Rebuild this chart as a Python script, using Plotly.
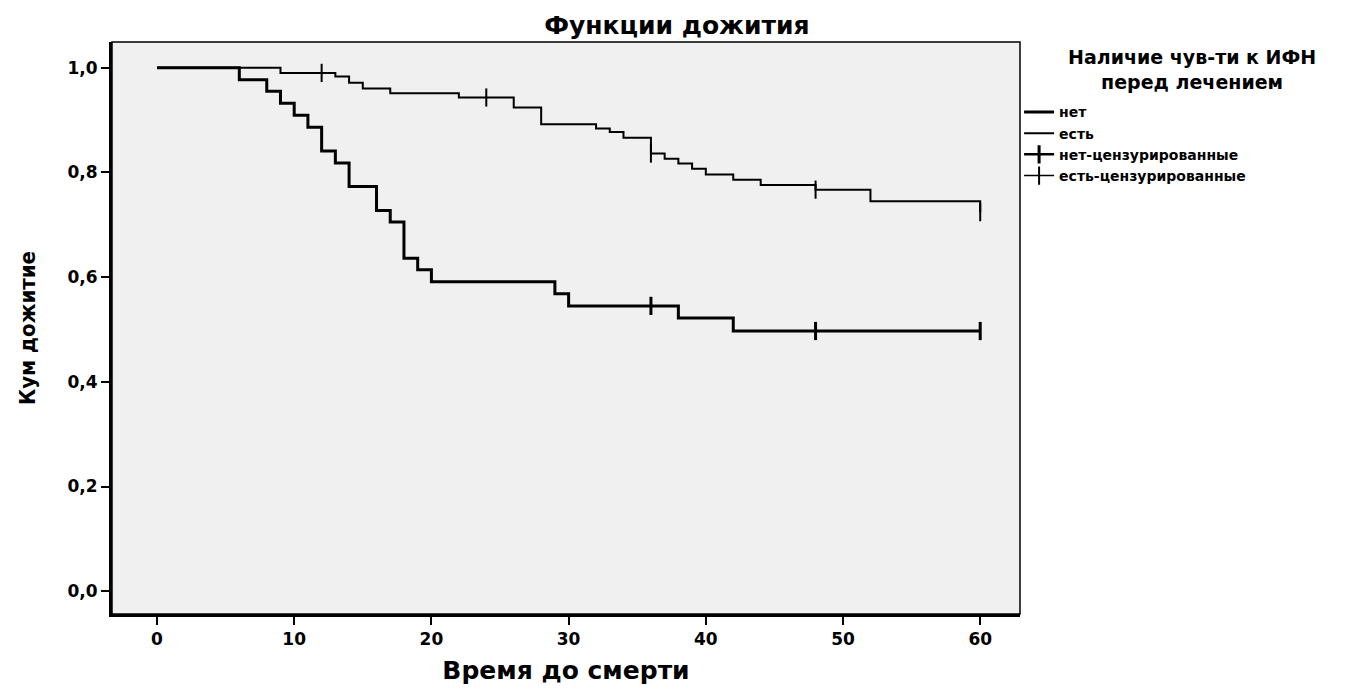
import plotly.graph_objects as go

# --- data ---
net_t = [0, 6, 8, 9, 10, 11, 12, 13, 14, 16, 17, 18, 19, 20, 29, 30, 38, 42, 60]
net_s = [1.0, 0.977, 0.955, 0.932, 0.909, 0.886, 0.841, 0.818, 0.773, 0.727,
         0.705, 0.636, 0.614, 0.591, 0.568, 0.545, 0.522, 0.497, 0.497]

est_t = [0, 9, 13, 14, 15, 17, 22, 26, 28, 32, 33, 34, 36, 37, 38, 39, 40, 42, 44, 48, 52, 60]
est_s = [1.0, 0.990, 0.983, 0.971, 0.960, 0.951, 0.943, 0.924, 0.892, 0.884, 0.877,
         0.866, 0.836, 0.826, 0.817, 0.807, 0.796, 0.786, 0.776, 0.767, 0.745, 0.724]

net_cens_t = [36, 48, 60]
net_cens_s = [0.545, 0.497, 0.497]
est_cens_t = [12, 24, 36, 48, 60]
est_cens_s = [0.990, 0.943, 0.836, 0.767, 0.724]

x_ticks = [0, 10, 20, 30, 40, 50, 60]
y_ticks = [0.0, 0.2, 0.4, 0.6, 0.8, 1.0]

title = "Функции дожития"
x_title = "Время до смерти"
y_title = "Кум дожитие"
legend_title = "Наличие чув-ти к ИФН<br>перед лечением"
names = ["нет", "есть", "нет-цензурированные", "есть-цензурированные"]


def gapped(vals):
    out = []
    for v in vals:
        out += [v, None]
    return out


FONT = "DejaVu Sans, Liberation Sans, sans-serif"
NARROW = "DejaVu Sans Condensed, Liberation Sans Narrow, sans-serif"

fig = go.Figure()
fig.add_trace(go.Scatter(x=net_t, y=net_s, mode="lines", line_shape="hv",
                         line=dict(color="black", width=3), name=names[0]))
fig.add_trace(go.Scatter(x=est_t, y=est_s, mode="lines", line_shape="hv",
                         line=dict(color="black", width=2), name=names[1]))
fig.add_trace(go.Scatter(x=gapped(net_cens_t), y=gapped(net_cens_s), mode="lines+markers",
                         line=dict(color="black", width=2.5),
                         marker=dict(symbol="line-ns", size=13,
                                     line=dict(color="black", width=3)),
                         name=names[2]))
fig.add_trace(go.Scatter(x=gapped(est_cens_t), y=gapped(est_cens_s), mode="lines+markers",
                         line=dict(color="black", width=1.5),
                         marker=dict(symbol="line-ns", size=13,
                                     line=dict(color="black", width=2)),
                         name=names[3]))

fig.update_layout(
    width=1354, height=685,
    margin=dict(l=104, r=342, t=34, b=73),
    paper_bgcolor="white", plot_bgcolor="#f0f0f0",
    separators=", ",
    font=dict(family=FONT, color="black"),
    title=dict(text=title, x=0.494, xanchor="center", y=0.975, yanchor="middle",
               font=dict(size=25, weight="bold", family=FONT)),
    showlegend=True,
    legend=dict(x=0.999, xanchor="left", y=0.905, yanchor="top",
                bgcolor="rgba(0,0,0,0)",
                font=dict(size=14, weight="bold", family=FONT),
                tracegroupgap=0, itemwidth=30),
    xaxis=dict(range=[-3.28, 62.9], tickvals=x_ticks, tickformat="d",
               showgrid=False, zeroline=False,
               showline=True, linecolor="black", linewidth=3,
               ticks="outside", ticklen=8, tickwidth=2, tickcolor="black",
               tickfont=dict(size=17, weight="bold", family=FONT),
               title=dict(text=x_title, standoff=14,
                          font=dict(size=25, weight="bold", family=FONT))),
    yaxis=dict(range=[-0.0435, 1.049], tickvals=y_ticks, tickformat=".1f",
               showgrid=False, zeroline=False,
               showline=True, linecolor="black", linewidth=3,
               ticks="outside", ticklen=8, tickwidth=2, tickcolor="black",
               tickfont=dict(size=17, weight="bold", family=FONT),
               title=dict(text=y_title, standoff=26,
                          font=dict(size=22, weight="bold", family=NARROW))),
)
fig.add_annotation(text=legend_title, xref="paper", yref="paper", x=1.189, y=0.952,
                   xanchor="center", yanchor="middle", align="center", showarrow=False,
                   font=dict(size=19, weight="bold", family=FONT))
fig.add_shape(type="rect", xref="x domain", yref="y domain", x0=0, x1=1, y0=0, y1=1,
              line=dict(color="black", width=1.5), layer="above")

fig.write_html("out.html")
